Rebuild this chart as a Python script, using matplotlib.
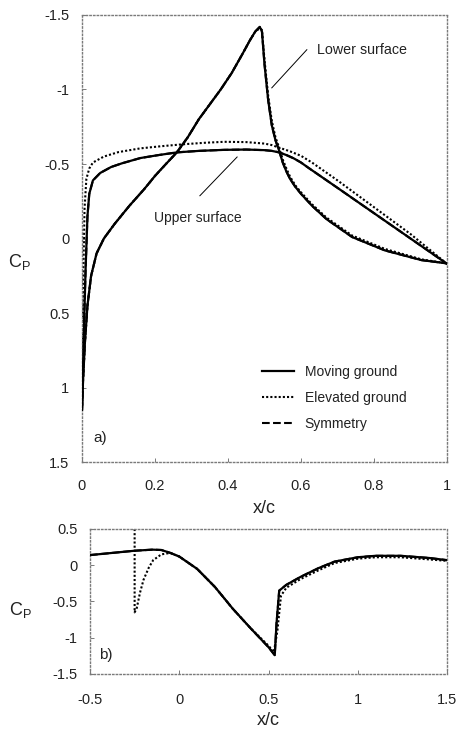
import matplotlib.pyplot as plt

plt.rcParams['font.family'] = ['Liberation Sans', 'DejaVu Sans']
plt.rcParams['mathtext.fontset'] = 'custom'
plt.rcParams['mathtext.rm'] = 'Liberation Sans'

# a) surface pressure along the chord
up_x = [0.0, 0.003, 0.006, 0.01, 0.015, 0.02, 0.03, 0.05, 0.08, 0.11, 0.16, 0.21, 0.26,
        0.32, 0.39, 0.45, 0.5, 0.52, 0.54, 0.56, 0.58, 0.6, 0.62, 0.7, 0.8, 0.9, 1.0]
up_mov = [1.15, 0.85, 0.55, 0.2, -0.15, -0.3, -0.39, -0.44, -0.48, -0.505, -0.54, -0.56, -0.578,
          -0.588, -0.595, -0.597, -0.593, -0.588, -0.578, -0.56, -0.538, -0.51, -0.475, -0.34, -0.17,
          0.0, 0.17]

up_ex = [0.0, 0.002, 0.004, 0.007, 0.012, 0.02, 0.03, 0.06, 0.1, 0.16, 0.22, 0.28, 0.34,
         0.39, 0.45, 0.5, 0.52, 0.54, 0.57, 0.6, 0.63, 0.7, 0.8, 0.9, 1.0]
up_elev = [1.15, 0.7, 0.2, -0.2, -0.4, -0.47, -0.51, -0.55, -0.58, -0.605, -0.62, -0.633, -0.643,
           -0.649, -0.647, -0.637, -0.627, -0.61, -0.585, -0.555, -0.51, -0.39, -0.21, -0.03, 0.17]

lo_x = [0.0, 0.003, 0.008, 0.015, 0.025, 0.04, 0.06, 0.09, 0.13, 0.17, 0.2, 0.23, 0.26, 0.29,
        0.32, 0.35, 0.38, 0.41, 0.44, 0.46, 0.475, 0.487, 0.493, 0.5, 0.51, 0.52, 0.53, 0.54,
        0.55, 0.56, 0.57, 0.585, 0.6, 0.63, 0.67, 0.74, 0.83, 0.93, 1.0]
lo_mov = [1.15, 0.95, 0.7, 0.45, 0.25, 0.1, 0.0, -0.1, -0.22, -0.33, -0.42, -0.5, -0.578, -0.68,
          -0.8, -0.9, -1.0, -1.11, -1.24, -1.33, -1.39, -1.42, -1.39, -1.17, -0.93, -0.76, -0.66, -0.59,
          -0.51, -0.45, -0.4, -0.345, -0.3, -0.22, -0.13, -0.01, 0.08, 0.145, 0.167]
lo_elev = [1.15, 0.95, 0.7, 0.45, 0.25, 0.1, 0.0, -0.1, -0.22, -0.33, -0.42, -0.5, -0.58, -0.68,
           -0.8, -0.9, -1.0, -1.11, -1.24, -1.33, -1.39, -1.41, -1.40, -1.20, -0.96, -0.79, -0.68, -0.61,
           -0.53, -0.47, -0.415, -0.355, -0.31, -0.23, -0.14, -0.02, 0.07, 0.14, 0.167]

# b) ground pressure
gr_x = [-0.5, -0.25, -0.15, -0.1, -0.05, 0.0, 0.1, 0.2, 0.3, 0.4, 0.5, 0.535, 0.545, 0.56,
        0.6, 0.68, 0.78, 0.87, 1.0, 1.1, 1.24, 1.4, 1.5]
gr_mov = [0.14, 0.2, 0.215, 0.21, 0.17, 0.12, -0.05, -0.3, -0.6, -0.87, -1.13, -1.24, -0.8, -0.35,
          -0.27, -0.16, -0.04, 0.05, 0.11, 0.13, 0.13, 0.1, 0.07]
ge_x = [-0.25, -0.25, -0.238, -0.22, -0.2, -0.17, -0.146, -0.1, -0.05, 0.0, 0.1, 0.2, 0.3, 0.4,
        0.5, 0.53, 0.55, 0.57, 0.6, 0.68, 0.78, 0.87, 1.0, 1.1, 1.24, 1.4, 1.5]
ge_elev = [0.5, -0.65, -0.59, -0.38, -0.2, -0.03, 0.07, 0.15, 0.17, 0.12, -0.05, -0.3, -0.6, -0.87,
           -1.11, -1.2, -0.9, -0.42, -0.31, -0.19, -0.07, 0.03, 0.09, 0.11, 0.11, 0.08, 0.06]

dot = (0, (1, 1))
frame_col = '#7a7a7a'
txt = '#222222'


def style(ax):
    for s in ax.spines.values():
        s.set_linestyle(':')
        s.set_color(frame_col)
        s.set_linewidth(1.0)
    ax.tick_params(direction='in', length=3, width=0.7, color=frame_col,
                   labelsize=10.5, labelcolor=txt)
    ax.tick_params(axis='x', pad=12)
    ax.tick_params(axis='y', pad=9)


fig = plt.figure(figsize=(4.58, 7.35), dpi=100)

ax1 = fig.add_axes([0.179, 0.3714, 0.797, 0.6082])
ax1.plot(up_x, up_mov, color='k', lw=1.5, ls='--', zorder=1, label='Symmetry')
ax1.plot(lo_x, lo_mov, color='k', lw=1.5, ls='--', zorder=1)
ax1.plot(up_ex, up_elev, color='k', lw=1.5, ls=dot, zorder=2, label='Elevated ground')
ax1.plot(lo_x, lo_elev, color='k', lw=1.5, ls=dot, zorder=2)
ax1.plot(up_x, up_mov, color='k', lw=1.6, zorder=3, label='Moving ground')
ax1.plot(lo_x, lo_mov, color='k', lw=1.6, zorder=3)
ax1.set_xlim(0, 1)
ax1.set_ylim(1.5, -1.5)
ax1.set_xticks([0, 0.2, 0.4, 0.6, 0.8, 1])
ax1.set_xticklabels(['0', '0.2', '0.4', '0.6', '0.8', '1'])
ax1.set_yticks([-1.5, -1, -0.5, 0, 0.5, 1, 1.5])
ax1.set_yticklabels(['-1.5', '-1', '-0.5', '0', '0.5', '1', '1.5'])
style(ax1)
ax1.set_xlabel('x/c', fontsize=13, color=txt, labelpad=5)
ax1.set_ylabel(r'C$_\mathregular{P}$', fontsize=13, color=txt, rotation=0)
ax1.yaxis.set_label_coords(-0.17, 0.425)

h, l = ax1.get_legend_handles_labels()
ax1.legend(h[::-1], l[::-1], loc='upper left', bbox_to_anchor=(0.46, 0.245), frameon=False,
           fontsize=10, handlelength=2.3, labelspacing=0.85, handletextpad=0.75, labelcolor=txt)

ax1.text(0.03, 0.045, 'a)', transform=ax1.transAxes, fontsize=11, color=txt)
ax1.plot([0.323, 0.425], [-0.287, -0.547], color='k', lw=0.7)
ax1.text(0.318, -0.14, 'Upper surface', ha='center', va='center', fontsize=10, color=txt)
ax1.plot([0.52, 0.616], [-1.011, -1.267], color='k', lw=0.7)
ax1.text(0.643, -1.262, 'Lower surface', ha='left', va='center', fontsize=10.3, color=txt)

ax2 = fig.add_axes([0.1965, 0.083, 0.7795, 0.1973])
ax2.plot(ge_x, ge_elev, color='k', lw=1.5, ls=dot, zorder=2)
ax2.plot(gr_x, gr_mov, color='k', lw=1.5, ls='--', zorder=1)
ax2.plot(gr_x, gr_mov, color='k', lw=1.6, zorder=3)
ax2.set_xlim(-0.5, 1.5)
ax2.set_ylim(-1.5, 0.5)
ax2.set_xticks([-0.5, 0, 0.5, 1, 1.5])
ax2.set_xticklabels(['-0.5', '0', '0.5', '1', '1.5'])
ax2.set_yticks([0.5, 0, -0.5, -1, -1.5])
ax2.set_yticklabels(['0.5', '0', '-0.5', '-1', '-1.5'])
style(ax2)
ax2.tick_params(axis='x', pad=14)
ax2.set_xlabel('x/c', fontsize=13, color=txt, labelpad=3)
ax2.set_ylabel(r'C$_\mathregular{P}$', fontsize=13, color=txt, rotation=0)
ax2.yaxis.set_label_coords(-0.196, 0.37)
ax2.text(0.025, 0.1, 'b)', transform=ax2.transAxes, fontsize=11, color=txt)

fig.savefig('out.png', dpi=100)
